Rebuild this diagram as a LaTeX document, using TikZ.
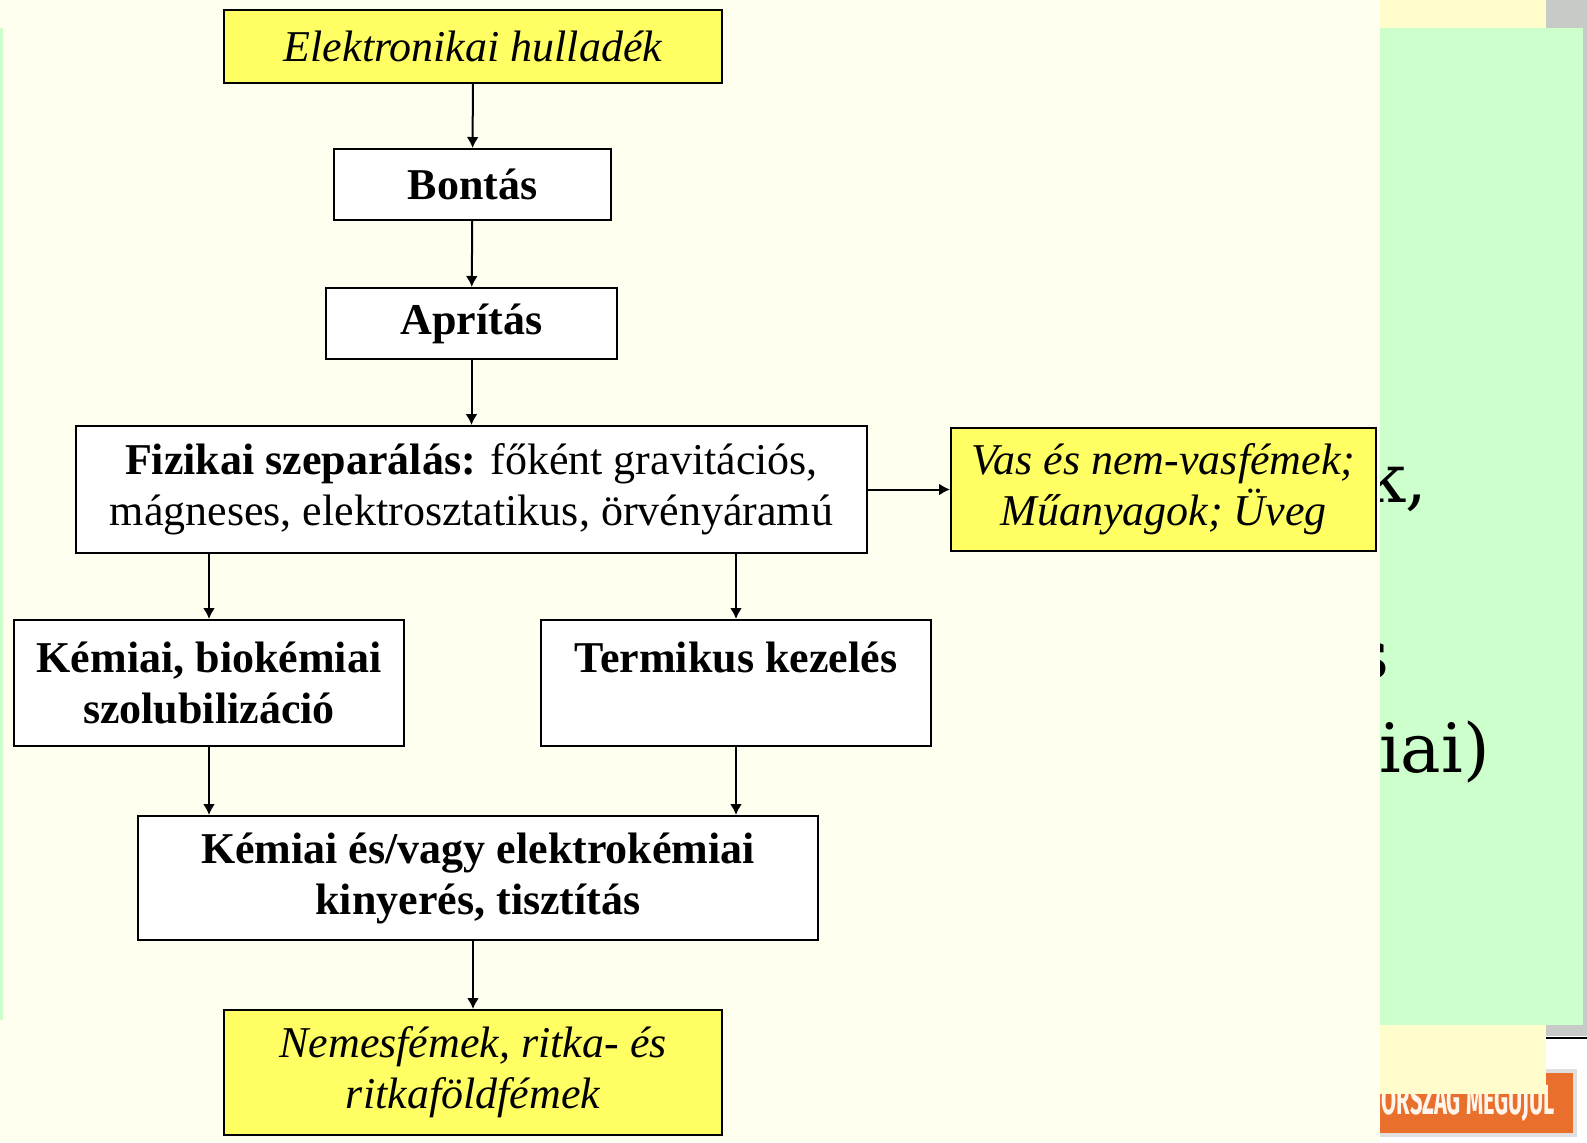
\documentclass[tikz,border=0pt]{standalone}
\usepackage{fontspec}
\setmainfont{Liberation Serif}
\newfontfamily\slidefont{DejaVu Serif}
\newfontfamily\bannerfont{Fira Sans}
\usetikzlibrary{arrows.meta}
\definecolor{slidecream}{RGB}{255,255,240}
\definecolor{panelgreen}{RGB}{204,255,204}
\definecolor{paleyellow}{RGB}{255,253,204}
\definecolor{boxyellow}{RGB}{255,255,100}
\definecolor{bannerorange}{RGB}{232,112,44}
\definecolor{slidegray}{RGB}{200,202,200}
\tikzset{
  procbox/.style={draw, line width=1pt, fill=white, align=center, inner sep=0pt,
    font=\fontsize{22}{25.5}\selectfont\bfseries},
  outbox/.style={procbox, fill=boxyellow, font=\fontsize{22}{25.5}\selectfont\itshape},
  fragtext/.style={inner sep=0pt, font=\slidefont\fontsize{34}{40}\selectfont},
}
\begin{document}
\begin{tikzpicture}[x=0.5pt, y=-0.5pt, >={Latex[length=5.5pt,width=6pt]}, line width=1pt]
\useasboundingbox (0,0) rectangle (1587,1142);
% slide behind the chart
\fill[slidecream] (0,0) rectangle (1587,1142);
\fill[panelgreen] (0,28) rectangle (3,1020);
\fill[white] (1380,1025) rectangle (1587,1142);
\fill[slidegray] (1546,0) rectangle (1587,1036);
\draw[line width=0.6pt] (1546,1038) -- (1587,1038);
\fill[paleyellow] (1380,0) rectangle (1546,28);
\fill[panelgreen] (1380,28) rectangle (1583,1025);
\fill[slidegray!60] (1380,1069) rectangle (1577,1137);
\fill[bannerorange] (1380,1073) rectangle (1573,1133);
\begin{scope}
\clip (1380,1073) rectangle (1573,1133);
\node[anchor=base east, inner sep=0pt, text=white!92!orange] (banner) at (1556,1114)
  {\bannerfont\fontsize{21}{24}\selectfont\bfseries\scalebox{0.52}[1]{ORSZAG MEGUJUL}};
\end{scope}
\fill[paleyellow] (1380,1025) rectangle (1546,1094);
\begin{scope}
\clip (1380,28) rectangle (1583,1025);
\node[fragtext, anchor=base east] (fragk) at (1428,502) {k,};
\node[fragtext, anchor=base east] (frags) at (1390,678) {s};
\node[fragtext, anchor=base west] (fragiai) at (1378,772) {iai)};
\end{scope}
%
\node[outbox, minimum width=249pt, minimum height=36.5pt] (elek) at (473,46.5) {Elektronikai hulladék};
%
\node[procbox, minimum width=138.5pt, minimum height=35.5pt] (bontas) at (472.5,184.5) {Bontás};
\draw[->] (elek) -- (bontas);
%
\node[procbox, minimum width=145.5pt, minimum height=35.5pt] (apritas) at (471.5,323.5) {Aprítás};
\draw[->] (bontas) -- (apritas);
%
\node[procbox, minimum width=395.5pt, minimum height=63.5pt, font=\fontsize{22}{25.5}\selectfont] (fiz) at (471.5,489.5)
  {\textbf{Fizikai szeparálás:} főként gravitációs,\\mágneses, elektrosztatikus, örvényáramú};
\draw[->] (apritas) -- (fiz);
%
\node[outbox, minimum width=212.5pt, minimum height=61.5pt] (vas) at (1163.5,489.5) {Vas és nem-vasfémek;\\Műanyagok; Üveg};
\draw[->] (fiz) -- (vas);
%
\node[procbox, minimum width=195pt, minimum height=63pt] (kem) at (209,683) {Kémiai, biokémiai\\szolubilizáció};
\node[procbox, minimum width=195pt, minimum height=63pt] (term) at (736,683) {Termikus kezelés\\\mbox{}};
\draw[->] (fiz.south -| kem) -- (kem.north);
\draw[->] (fiz.south -| term) -- (term.north);
%
\node[procbox, minimum width=340pt, minimum height=62pt] (kinyer) at (478,878) {Kémiai és/vagy elektrokémiai\\kinyerés, tisztítás};
\draw[->] (kem.south) -- (kem.south |- kinyer.north);
\draw[->] (term.south) -- (term.south |- kinyer.north);
%
\node[outbox, minimum width=249pt, minimum height=62.5pt] (nemes) at (473,1072.5) {Nemesfémek, ritka- és\\ritkaföldfémek};
\draw[->] (kinyer.south -| nemes) -- (nemes.north);
\end{tikzpicture}
\end{document}
